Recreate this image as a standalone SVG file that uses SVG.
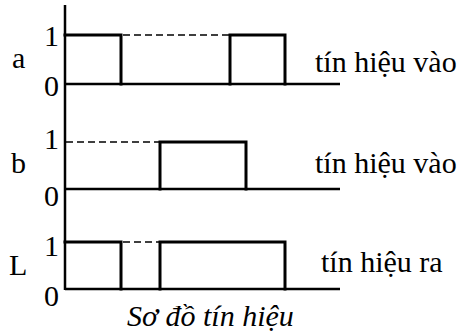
<svg xmlns="http://www.w3.org/2000/svg" width="461" height="334" viewBox="0 0 461 334">
<style>
.t{font-family:'Liberation Serif','DejaVu Serif',serif;font-size:30px;fill:#000}
.lvl{text-anchor:end}
.base{stroke:#000;stroke-width:2.5;fill:none}
.sig{stroke:#000;stroke-width:3;fill:none;stroke-linejoin:miter;stroke-linecap:square}
.dash{stroke:#000;stroke-width:1.5;stroke-dasharray:7 4;fill:none}
.cap{font-style:italic}
</style>
<rect width="461" height="334" fill="#fff"/>
<g id="axis">
<line class="base" x1="65" y1="5" x2="65" y2="290"/>
</g>
<g id="signal-a" class="t">
<text x="12" y="68">a</text>
<text class="lvl" x="59" y="46">1</text>
<text class="lvl" x="59" y="96">0</text>
<line class="base" x1="65" y1="84" x2="340" y2="84"/>
<polyline class="sig" points="65,35 121,35 121,84"/>
<line class="dash" x1="123" y1="35" x2="229" y2="35"/>
<polyline class="sig" points="230,84 230,35 285,35 285,84"/>
<text x="315" y="72">tín hiệu vào</text>
</g>
<g id="signal-b" class="t">
<text x="11" y="173">b</text>
<text class="lvl" x="59" y="149">1</text>
<text class="lvl" x="59" y="206">0</text>
<line class="base" x1="65" y1="189" x2="340" y2="189"/>
<line class="dash" x1="66" y1="142" x2="159" y2="142"/>
<polyline class="sig" points="160,189 160,142 246,142 246,189"/>
<text x="315" y="173">tín hiệu vào</text>
</g>
<g id="signal-L" class="t">
<text x="9" y="275">L</text>
<text class="lvl" x="59" y="256">1</text>
<text class="lvl" x="59" y="306">0</text>
<line class="base" x1="65" y1="289" x2="340" y2="289"/>
<polyline class="sig" points="65,242 121,242 121,289"/>
<line class="dash" x1="123" y1="242" x2="159" y2="242"/>
<polyline class="sig" points="160,289 160,242 285,242 285,289"/>
<text x="321" y="272">tín hiệu ra</text>
</g>
<text class="t cap" x="127" y="326">Sơ đồ tín hiệu</text>
</svg>
